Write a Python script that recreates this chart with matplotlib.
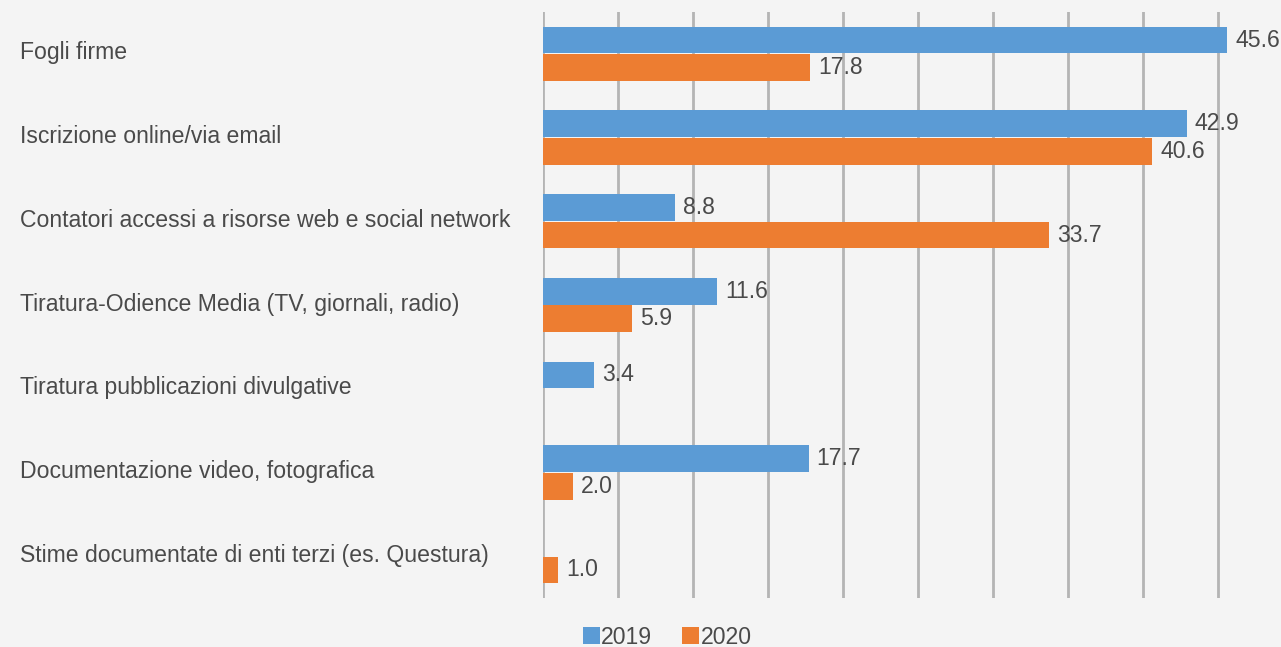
import matplotlib
matplotlib.use("Agg")
import matplotlib.pyplot as plt
import numpy as np
from matplotlib.patches import Patch

categories = [
    "Fogli firme",
    "Iscrizione online/via email",
    "Contatori accessi a risorse web e social network",
    "Tiratura-Odience Media (TV, giornali, radio)",
    "Tiratura pubblicazioni divulgative",
    "Documentazione video, fotografica",
    "Stime documentate di enti terzi (es. Questura)",
]
values_2019 = [45.6, 42.9, 8.8, 11.6, 3.4, 17.7, None]
values_2020 = [17.8, 40.6, 33.7, 5.9, None, 2.0, 1.0]
series_names = ["2019", "2020"]

plt.rcParams['font.family'] = ['Liberation Sans', 'DejaVu Sans']
bg = "#F4F4F4"
c19 = "#5B9BD5"
c20 = "#ED7D31"
txt = "#4A4A4A"
fs = 16.6

fig = plt.figure(figsize=(12.81, 6.47), dpi=100, facecolor=bg)
ax = fig.add_axes([543/1281, 1-598/647, (1278-543)/1281, (598-12)/647])
ax.set_facecolor(bg)

n = len(categories)
y = np.arange(n)
h = 0.32
off = 0.165

for i in range(n):
    v = values_2019[i]
    if v is not None:
        ax.barh(y[i] - off, v, height=h, color=c19, zorder=3)
        ax.text(v + 0.55, y[i] - off, f"{v:.1f}", va="center", ha="left", fontsize=fs, color=txt, zorder=4)
    v = values_2020[i]
    if v is not None:
        ax.barh(y[i] + off, v, height=h, color=c20, zorder=3)
        ax.text(v + 0.55, y[i] + off, f"{v:.1f}", va="center", ha="left", fontsize=fs, color=txt, zorder=4)

ax.set_xlim(0, 49)
ax.set_ylim(n - 0.5, -0.5)
ax.set_xticks(np.arange(0, 50, 5))
ax.set_xticklabels([])
ax.tick_params(axis='x', length=0)
ax.grid(axis='x', color="#B4B4B4", linewidth=2, zorder=0)
ax.set_yticks(y)
ax.set_yticklabels([])
ax.tick_params(axis='y', length=0)
for s in ax.spines.values():
    s.set_visible(False)

for i, c in enumerate(categories):
    fig.text(20/1281, 1 - (53 + i*83.7)/647, c, ha="left", va="center", fontsize=fs, color=txt)

handles = [Patch(facecolor=c19, label=series_names[0]), Patch(facecolor=c20, label=series_names[1])]
leg = fig.legend(handles=handles, loc="center", bbox_to_anchor=(667/1281, 1-637/647), ncol=2, frameon=False,
                 fontsize=fs, handlelength=0.75, handleheight=0.75, handletextpad=0.05, columnspacing=1.3,
                 borderpad=0, borderaxespad=0)
for t in leg.get_texts():
    t.set_color(txt)

fig.savefig("out.png", dpi=100, facecolor=bg)
